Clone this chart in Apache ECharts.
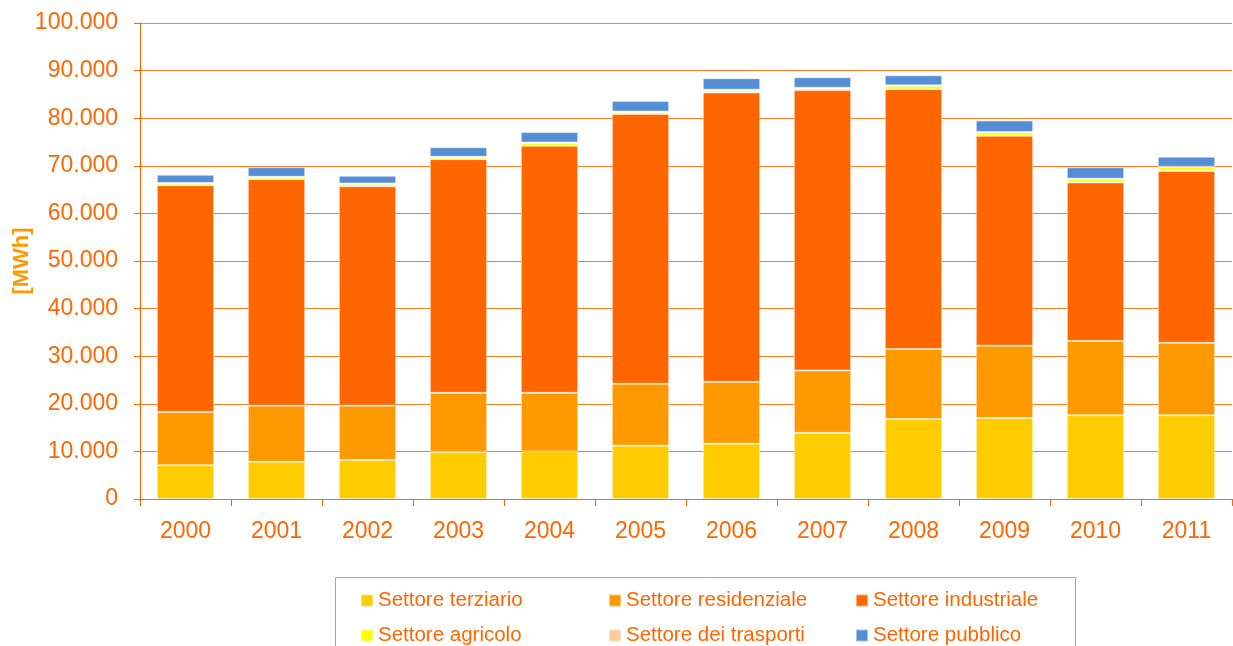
<!DOCTYPE html>
<html>
<head>
<meta charset="utf-8">
<script src="https://cdn.jsdelivr.net/npm/echarts@6/dist/echarts.min.js"></script>
<style>
  html, body { margin: 0; padding: 0; background: #fff; }
  #chart { width: 1233px; height: 646px; }
</style>
</head>
<body>
<div id="chart"></div>
<script>
// dati (MWh)
const years = ['2000', '2001', '2002', '2003', '2004', '2005', '2006', '2007', '2008', '2009', '2010', '2011']
const terziario = [7100, 7800, 8200, 9900, 10000, 11200, 11600, 13900, 16800, 17000, 17600, 17600]
const residenziale = [11200, 11800, 11400, 12400, 12300, 13000, 13000, 13100, 14700, 15200, 15600, 15200]
const industriale = [47600, 47600, 46100, 49100, 51900, 56700, 60800, 58900, 54600, 44100, 33300, 36100]
const agricolo = [400, 400, 500, 400, 600, 400, 500, 400, 700, 700, 700, 800]
const trasporti = [100, 100, 100, 100, 100, 100, 100, 100, 100, 100, 100, 100]
const pubblico = [1700, 2000, 1600, 2000, 2200, 2200, 2400, 2200, 2100, 2400, 2400, 2100]

const seriesDefs = [
  { name: 'Settore terziario', data: terziario, color: '#ffcc00' },
  { name: 'Settore residenziale', data: residenziale, color: '#ff9900' },
  { name: 'Settore industriale', data: industriale, color: '#ff6600' },
  { name: 'Settore agricolo', data: agricolo, color: '#ffff00' },
  { name: 'Settore dei trasporti', data: trasporti, color: '#ffcc99' },
  { name: 'Settore pubblico', data: pubblico, color: '#558ed5' }
]

const font = 'Liberation Sans, Arial, sans-serif'
const orange = '#ff6600'

const chart = echarts.init(document.getElementById('chart'))

// legenda in 2 righe x 3 colonne
const legendPos = [[355, 585], [603, 585], [850, 585], [355, 620], [603, 620], [850, 620]]
const legends = seriesDefs.map((s, i) => ({
  data: [s.name],
  left: legendPos[i][0],
  top: legendPos[i][1],
  itemWidth: 12,
  itemHeight: 12,
  itemGap: 0,
  icon: 'rect',
  selectedMode: false,
  textStyle: { color: orange, fontSize: 20.5, fontFamily: font }
}))

const option = {
  animation: false,
  backgroundColor: '#fff',
  color: seriesDefs.map(s => s.color),
  grid: { left: 140, right: 1, top: 23, bottom: 147, outerBoundsMode: 'none' },
  legend: legends,
  graphic: [{
    type: 'rect',
    shape: { x: 335.5, y: 577.5, width: 740, height: 80 },
    style: { fill: 'none', stroke: '#ff8c33', lineWidth: 1 }
  }],
  xAxis: {
    type: 'category',
    data: years,
    axisLine: { lineStyle: { color: orange, width: 1 } },
    axisTick: { show: true, length: 7, lineStyle: { color: orange } },
    axisLabel: { color: orange, fontSize: 23, fontFamily: font, margin: 21 }
  },
  yAxis: {
    type: 'value',
    min: 0,
    max: 100000,
    interval: 10000,
    name: '[MWh]',
    nameLocation: 'middle',
    nameGap: 107,
    nameMoveOverlap: false,
    nameTextStyle: { color: '#ff9900', fontSize: 22, fontWeight: 'bold', fontFamily: font },
    axisLine: { show: true, lineStyle: { color: orange, width: 1 } },
    axisTick: { show: true, length: 6, lineStyle: { color: orange } },
    splitLine: { lineStyle: { color: '#ff7a26', width: 1 } },
    axisLabel: {
      color: orange, fontSize: 23, fontFamily: font, margin: 22,
      formatter: v => v === 0 ? '0' : v.toLocaleString('de-DE')
    }
  },
  series: seriesDefs.map(s => ({
    name: s.name,
    type: 'bar',
    stack: 'tot',
    data: s.data,
    barWidth: '63%',
    itemStyle: { color: s.color, borderColor: 'rgba(255,255,255,0.45)', borderWidth: 1 }
  }))
}

chart.setOption(option)
</script>
</body>
</html>
